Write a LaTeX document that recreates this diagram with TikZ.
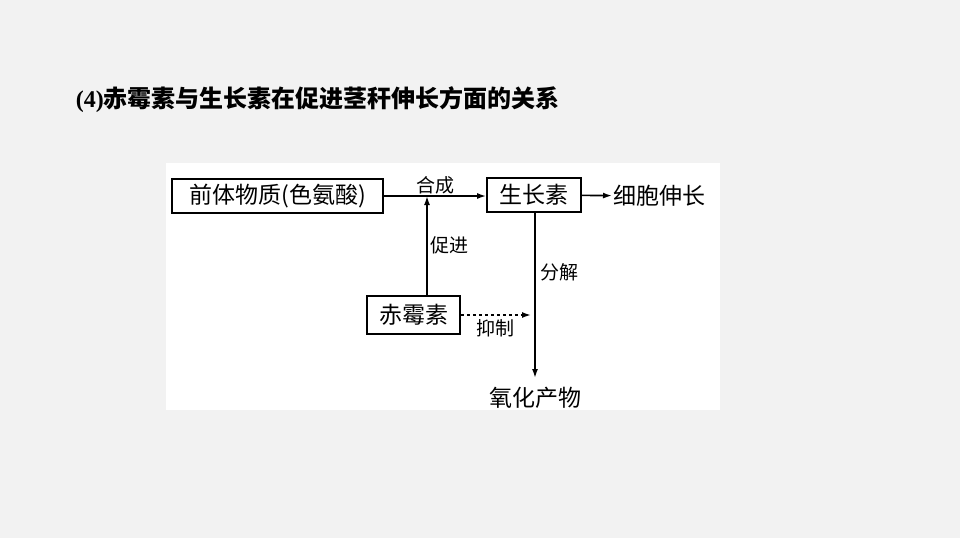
\documentclass[tikz,border=0pt]{standalone}
\usepackage{fontspec}
\setmainfont{Liberation Serif}
\newfontfamily\cjk{Noto Sans CJK SC}
\usetikzlibrary{positioning,arrows.meta}
\tikzset{%
  substbox/.style={draw,line width=1.8pt,inner sep=3pt,minimum height=34pt,font=\cjk\fontsize{23}{26}\selectfont},
  plain/.style={inner sep=1pt,font=\cjk\fontsize{23}{26}\selectfont},
  tag/.style={inner sep=1pt,font=\cjk\fontsize{19}{22}\selectfont},
}
\begin{document}
\begin{tikzpicture}[x=1pt,y=-1pt,>={Latex[length=9pt,width=6pt]},line width=1.6pt]
  \fill[gray!10] (0,0) rectangle (960,538);
  \useasboundingbox (0,0) rectangle (960,538);
  \fill[white] (166,163) rectangle (720,410);

  \node[anchor=west,inner sep=0pt,font=\bfseries\fontsize{24}{28}\selectfont] (title) at (75,100)
    {(4){\cjk\bfseries 赤霉素与生长素在促进茎秆伸长方面的关系}};

  \node[substbox,minimum width=211pt] (pre) at (277.5,196) {前体物质(色氨酸)};
  \node[substbox,minimum width=94pt] (iaa) at (534,195) {生长素};
  \node[plain,anchor=west] (grow) at (612,196) {细胞伸长};
  \node[substbox,minimum width=93pt,minimum height=38pt] (ga) at (413.5,315) {赤霉素};
  \node[plain] (ox) at (535,398) {氧化产物};

  \coordinate (meet) at (427,196);
  \coordinate (down) at (535,378);
  \coordinate (stop) at (531,315);

  \draw[->] (pre.east |- meet) -- node[tag,above] {合成} (iaa.west |- meet);
  \draw[->] (iaa) -- (grow);
  \draw[->] (ga.north -| meet) -- node[tag,right=2pt] {促进} (meet);
  \draw[->] (iaa.south -| down) -- node[tag,right=4pt,pos=0.36] {分解} (down);
  \draw[->,dashed] (ga.east) -- node[tag,below=3pt] {抑制} (stop);
\end{tikzpicture}
\end{document}
